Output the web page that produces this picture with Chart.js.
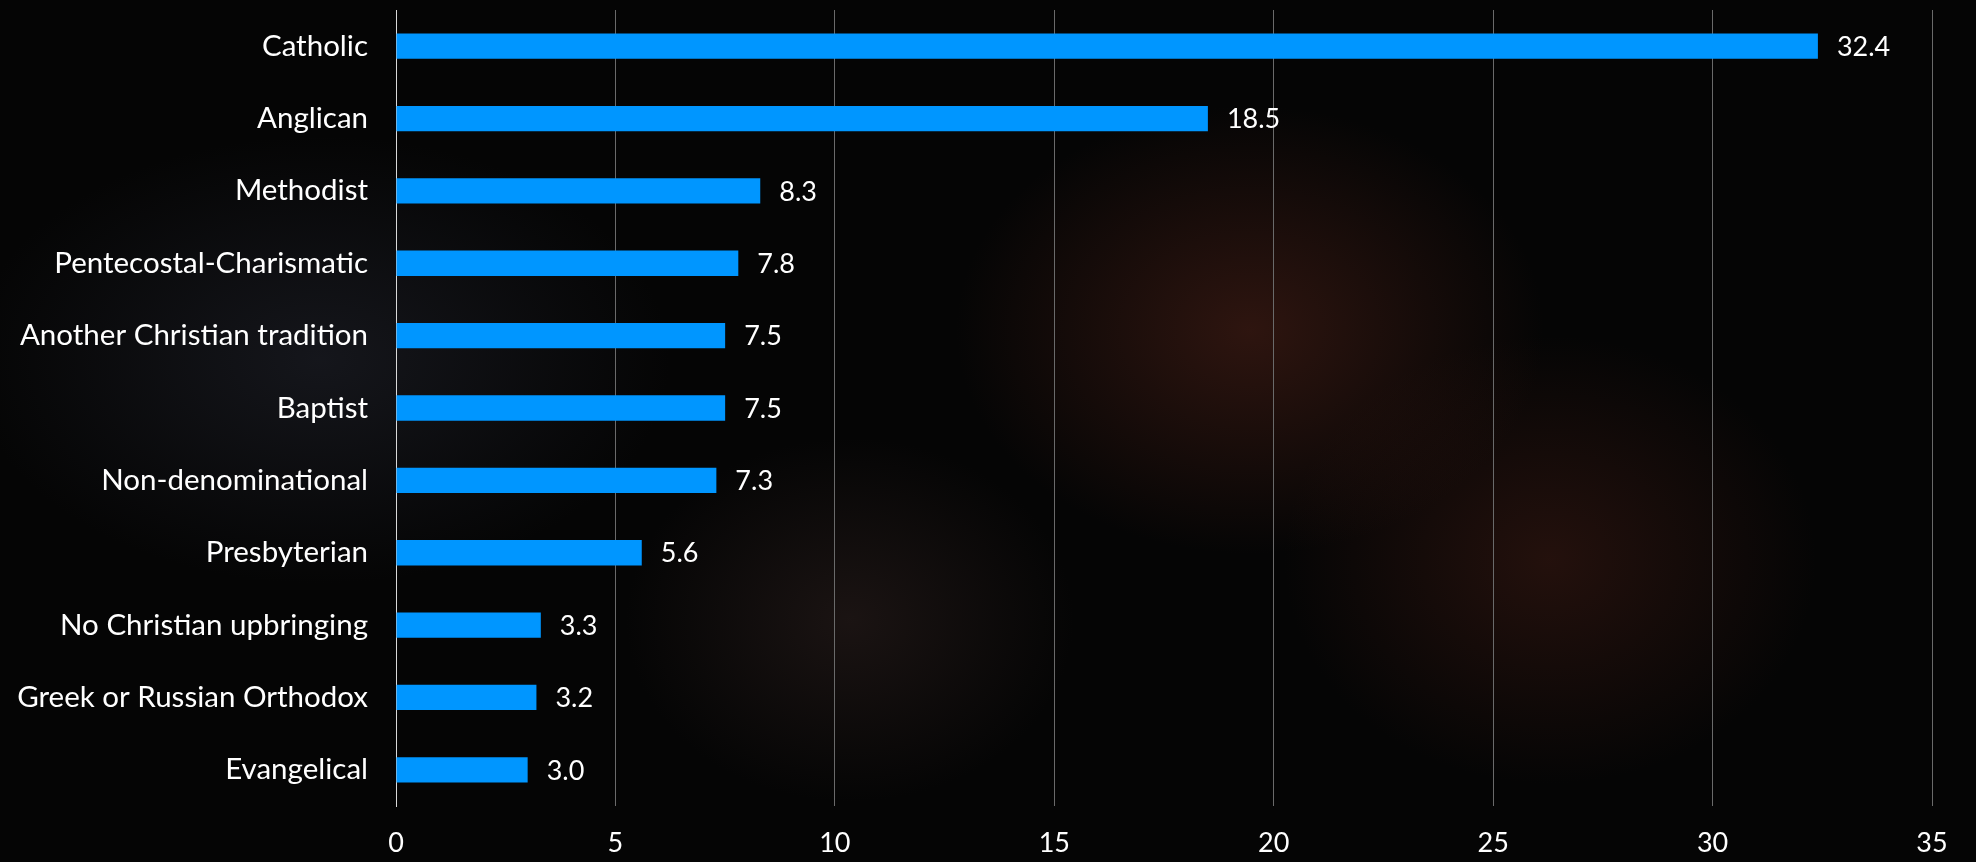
<!DOCTYPE html>
<html>
<head>
<meta charset="utf-8">
<script src="https://cdn.jsdelivr.net/npm/chart.js@4"></script>
<style>
html,body{margin:0;padding:0;width:1976px;height:862px;overflow:hidden;}
body{
    background:
        radial-gradient(ellipse 420px 320px at 1250px 330px, rgba(80,34,24,0.55), transparent 70%),
        radial-gradient(ellipse 380px 320px at 1550px 560px, rgba(66,28,20,0.5), transparent 70%),
        radial-gradient(ellipse 320px 260px at 850px 620px, rgba(48,34,32,0.5), transparent 70%),
        radial-gradient(ellipse 500px 320px at 320px 360px, rgba(34,36,46,0.55), transparent 70%),
        #050505;
}
#wrap{position:absolute;left:0;top:0;width:1976px;height:862px;}
</style>
</head>
<body>
<div id="wrap"><canvas id="chart"></canvas></div>
<script>
// ─── Data ───
const LABELS = ['Catholic','Anglican','Methodist','Pentecostal-Charismatic','Another Christian tradition',
                'Baptist','Non-denominational','Presbyterian','No Christian upbringing',
                'Greek or Russian Orthodox','Evangelical'];
const VALUES = [32.4,18.5,8.3,7.8,7.5,7.5,7.3,5.6,3.3,3.2,3.0];
const X_MIN = 0, X_MAX = 35, X_STEP = 5;

const FONT = "Lato, 'Open Sans', sans-serif";
const BAR_COLOR = '#0096ff';

// ─── Value labels at bar ends ───
const valueLabels = {
    id:'valueLabels',
    afterDatasetsDraw(chart){
        const ctx = chart.ctx;
        const meta = chart.getDatasetMeta(0);
        ctx.save();
        ctx.fillStyle = '#ffffff';
        ctx.font = `27px ${FONT}`;
        ctx.textAlign = 'left';
        ctx.textBaseline = 'middle';
        meta.data.forEach((bar,i)=>{
            ctx.fillText(VALUES[i].toFixed(1), bar.x + 19, bar.y + 1);
        });
        ctx.restore();
    }
};

Chart.defaults.font.family = FONT;
Chart.defaults.color = '#ffffff';

new Chart(document.getElementById('chart').getContext('2d'),{
    type:'bar',
    data:{labels:LABELS,datasets:[{data:VALUES,backgroundColor:BAR_COLOR,
        barPercentage:0.35,categoryPercentage:1}]},
    options:{
        indexAxis:'y',
        responsive:true,maintainAspectRatio:false,animation:false,
        layout:{padding:{top:10,right:44,left:0,bottom:0}},
        plugins:{legend:{display:false},tooltip:{enabled:false}},
        scales:{
            x:{
                min:X_MIN,max:X_MAX,
                ticks:{stepSize:X_STEP,font:{size:27},color:'#ffffff',padding:21},
                grid:{drawTicks:false,color:c=>c.tick && c.tick.value===0 ? '#d9d9d9' : '#6a6a6a',lineWidth:1},
                border:{display:false},
                afterFit(s){s.height = 56;}
            },
            y:{
                ticks:{font:{size:29.5},color:'#ffffff',padding:28},
                grid:{display:false,drawTicks:false},
                border:{display:true,color:'#d9d9d9',width:1},
                afterFit(s){s.width = 396; s.paddingTop = 0; s.paddingBottom = 0;}
            }
        }
    },
    plugins:[valueLabels]
});
</script>
</body>
</html>
